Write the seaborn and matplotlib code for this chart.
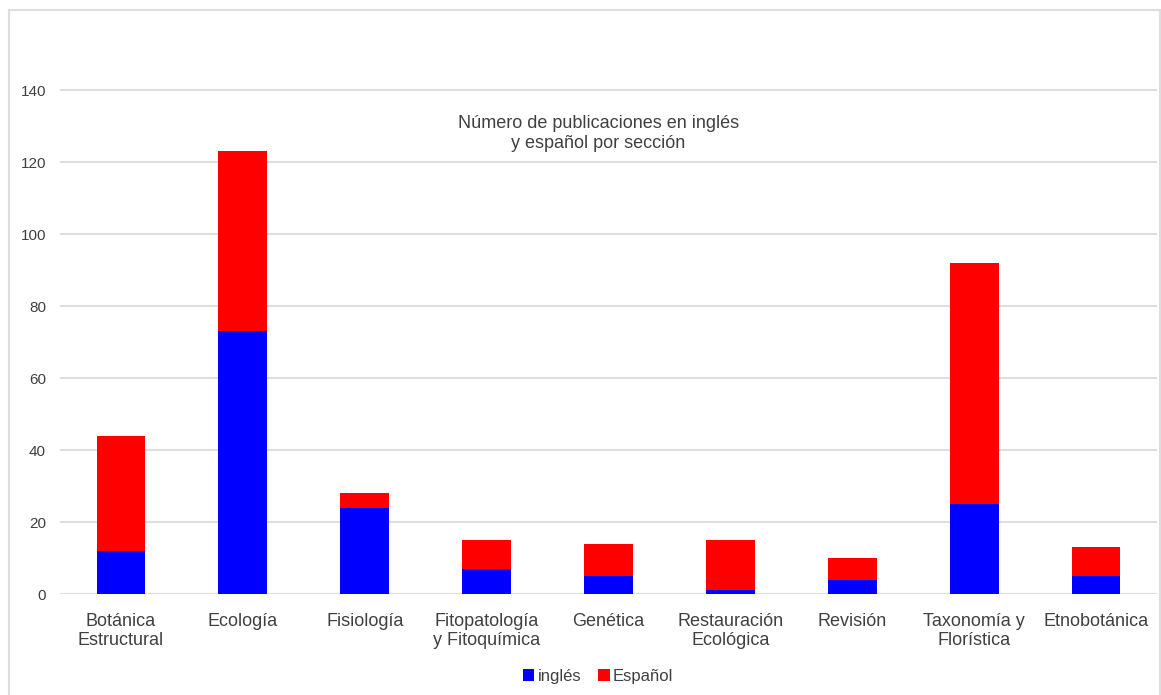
import matplotlib
matplotlib.use("Agg")
import matplotlib.pyplot as plt
import matplotlib.transforms as mtransforms
from matplotlib.patches import Patch, Rectangle
import pandas as pd
import seaborn as sns

secciones = [
    "Botánica\nEstructural", "Ecología", "Fisiología", "Fitopatología\ny Fitoquímica",
    "Genética", "Restauración\nEcológica", "Revisión", "Taxonomía y\nFlorística",
    "Etnobotánica",
]
ingles = [12, 73, 24, 7, 5, 1, 4, 25, 5]
espanol = [32, 50, 4, 8, 9, 14, 6, 67, 8]
y_ticks = [0, 20, 40, 60, 80, 100, 120, 140]

BLUE = "#0000ff"
RED = "#ff0000"
GRID = "#dedede"
TEXT = "#404040"

df = pd.DataFrame({"seccion": secciones, "ingles": ingles, "espanol": espanol})
df["total"] = df["ingles"] + df["espanol"]

sns.set_theme(style="white")
plt.rcParams["font.family"] = ["Liberation Sans", "DejaVu Sans"]

fig = plt.figure(figsize=(11.61, 6.95), dpi=100)
ax = fig.add_axes([60 / 1161, 1 - 594 / 695, 1097 / 1161, (594 - 18) / 695])

# Stacked bars: total (Español on top) first, then inglés at the base
sns.barplot(data=df, x="seccion", y="total", color=RED, width=0.4,
            saturation=1, linewidth=0, ax=ax, zorder=3)
sns.barplot(data=df, x="seccion", y="ingles", color=BLUE, width=0.4,
            saturation=1, linewidth=0, ax=ax, zorder=4)

ax.set_xlim(-0.5, len(secciones) - 0.5)
ax.set_ylim(0, 160)
ax.set_yticks(y_ticks)
ax.set_yticklabels([str(t) for t in y_ticks], fontsize=11, color=TEXT)
ax.tick_params(axis="x", labelsize=13, labelcolor=TEXT, length=0, pad=14)
ax.tick_params(axis="y", length=0, pad=10)
for lbl in ax.get_xticklabels():
    lbl.set_linespacing(1.15)
ax.set_xlabel("")
ax.set_ylabel("")
ax.grid(axis="y", color=GRID, linewidth=1.5, zorder=0)
ax.set_axisbelow(True)
for s in ax.spines.values():
    s.set_visible(False)

trans = mtransforms.blended_transform_factory(ax.transAxes, ax.transData)
ax.text(0.4905, 128, "Número de publicaciones en inglés\ny español por sección",
        transform=trans, ha="center", va="center", fontsize=13, color=TEXT,
        linespacing=1.25)

handles = [Patch(facecolor=BLUE, edgecolor="none", label="inglés"),
           Patch(facecolor=RED, edgecolor="none", label="Español")]
fig.legend(handles=handles, loc="center", bbox_to_anchor=(598 / 1161, 1 - 676 / 695),
           ncol=2, frameon=False, fontsize=12, handlelength=0.7, handleheight=0.7,
           handletextpad=0.2, columnspacing=1.0, labelcolor=TEXT)

# Thin frame around the chart
fig.patches.append(Rectangle((9 / 1161, -0.05), 1151 / 1161, 1 - 10 / 695 + 0.05,
                             transform=fig.transFigure, fill=False,
                             edgecolor=GRID, linewidth=1.5))

fig.savefig("out.png", dpi=100)
